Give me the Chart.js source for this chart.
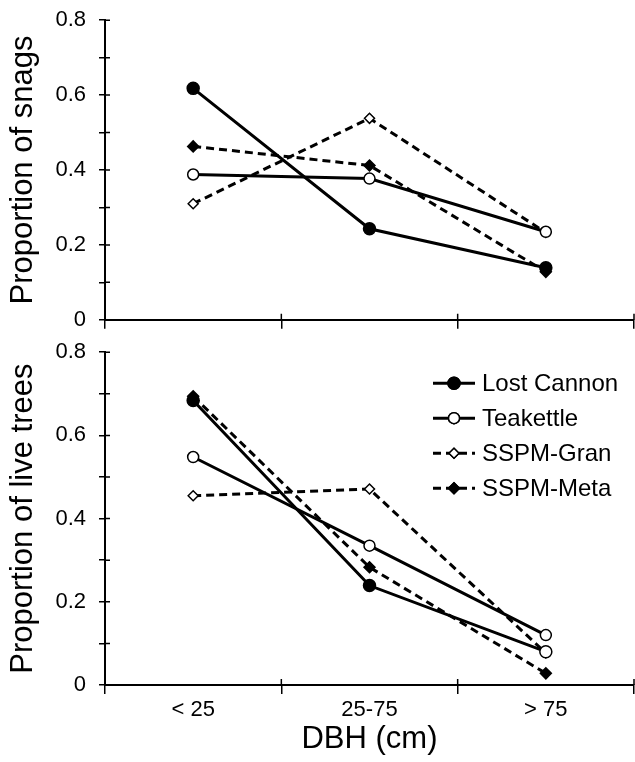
<!DOCTYPE html>
<html>
<head>
<meta charset="utf-8">
<script src="https://cdn.jsdelivr.net/npm/chart.js@4.4.1/dist/chart.umd.min.js"></script>
<style>
    body { margin: 0; background: #fff; }
    .panel { position: absolute; left: 0; }
    canvas { display: block; }
</style>
</head>
<body>
<div class="panel" style="top:-6px"><canvas id="snags" width="635" height="352"></canvas></div>
<div class="panel" style="top:326px"><canvas id="live" width="635" height="436"></canvas></div>
<script>
const categories = ['< 25', '25-75', '> 75'];
const seriesNames = ['Lost Cannon', 'Teakettle', 'SSPM-Gran', 'SSPM-Meta'];

// proportion of snags
const snagsLostCannon = [0.618, 0.243, 0.139];
const snagsTeakettle = [0.388, 0.377, 0.235];
const snagsGran = [0.310, 0.538, 0.233];
const snagsMeta = [0.463, 0.412, 0.128];

// proportion of live trees
const liveLostCannon = [0.684, 0.239, 0.080];
const liveTeakettle = [0.548, 0.335, 0.120];
const liveGran = [0.455, 0.471, 0.077];
const liveMeta = [0.694, 0.283, 0.028];

const yTicks = [0, 0.2, 0.4, 0.6, 0.8];

const FONT = "'Liberation Sans', Arial, sans-serif";

const seriesStyle = [
    { dash: [], pointStyle: 'circle', radius: 6, fill: '#000' },
    { dash: [], pointStyle: 'circle', radius: 5.5, fill: '#fff' },
    { dash: [8, 5], pointStyle: 'rectRot', radius: 5, fill: '#fff' },
    { dash: [8, 5], pointStyle: 'rectRot', radius: 5.5, fill: '#000' },
];

function makeDatasets(values) {
    return values.map((data, i) => ({
        label: seriesNames[i],
        data: data,
        borderColor: '#000',
        borderWidth: 3,
        borderDash: seriesStyle[i].dash,
        pointStyle: seriesStyle[i].pointStyle,
        pointRadius: seriesStyle[i].radius,
        pointBackgroundColor: seriesStyle[i].fill,
        pointBorderColor: '#000',
        pointBorderWidth: 1.5,
        tension: 0,
        fill: false,
    }));
}

// short tick marks poking into the plot area
const innerTicks = {
    id: 'innerTicks',
    afterDraw(chart) {
        const ctx = chart.ctx;
        const { x, y } = chart.scales;
        const half = (x.getPixelForValue(1) - x.getPixelForValue(0)) / 2;
        ctx.save();
        ctx.strokeStyle = '#000';
        ctx.lineWidth = 1.5;
        ctx.beginPath();
        y.ticks.forEach((t, i) => {
            const py = y.getPixelForTick(i);
            ctx.moveTo(y.right, py);
            ctx.lineTo(y.right + 5, py);
        });
        for (let i = 0; i <= categories.length; i++) {
            const px = i < categories.length ? x.getPixelForValue(i) - half : x.right;
            ctx.moveTo(px, x.top);
            ctx.lineTo(px, x.top - 6);
        }
        ctx.stroke();
        ctx.restore();
    }
};

const lineLegend = {
    id: 'lineLegend',
    afterDraw(chart) {
        const ctx = chart.ctx;
        const area = chart.chartArea;
        const x0 = area.right - 201;
        const x1 = x0 + 42;
        const mid = (x0 + x1) / 2;
        ctx.save();
        ctx.font = '24px ' + FONT;
        ctx.textBaseline = 'middle';
        chart.data.datasets.forEach((ds, i) => {
            const yy = area.top + 31 + i * 35;
            ctx.strokeStyle = '#000';
            ctx.lineWidth = 3;
            ctx.setLineDash(ds.borderDash);
            ctx.beginPath();
            ctx.moveTo(x0, yy);
            ctx.lineTo(x1, yy);
            ctx.stroke();
            ctx.setLineDash([]);
            ctx.lineWidth = 1.5;
            ctx.fillStyle = seriesStyle[i].fill;
            Chart.helpers.drawPoint(ctx, { pointStyle: ds.pointStyle, radius: ds.pointRadius, borderWidth: 1.5 }, mid, yy);
            ctx.fill();
            ctx.stroke();
            ctx.fillStyle = '#000';
            ctx.fillText(ds.label, x1 + 7, yy + 1);
        });
        ctx.restore();
    }
};

function makeOptions(yTitle, showX) {
    return {
        responsive: false,
        animation: false,
        layout: { autoPadding: false, padding: { top: 0, right: 1, left: 0, bottom: showX ? 4 : 0 } },
        plugins: {
            legend: { display: false },
            tooltip: { enabled: false },
        },
        scales: {
            x: {
                type: 'category',
                offset: true,
                grid: {
                    display: true,
                    offset: true,
                    drawOnChartArea: false,
                    drawTicks: true,
                    tickLength: 9,
                    color: '#000',
                    lineWidth: 1.5,
                },
                border: { color: '#000', width: 2 },
                ticks: {
                    display: showX,
                    color: '#000',
                    padding: 3,
                    font: { family: FONT, size: 22 },
                },
                title: {
                    display: showX,
                    text: 'DBH (cm)',
                    color: '#000',
                    padding: { top: 0, bottom: 0 },
                    font: { family: FONT, size: 31 },
                },
                afterFit(scale) { scale.height = showX ? 73 : 11; },
            },
            y: {
                min: 0,
                max: 0.8,
                grid: {
                    display: true,
                    drawOnChartArea: false,
                    drawTicks: true,
                    tickLength: 6,
                    color: '#000',
                    lineWidth: 1.5,
                },
                border: { color: '#000', width: 2 },
                ticks: {
                    stepSize: 0.1,
                    color: '#000',
                    padding: 13,
                    font: { family: FONT, size: 22 },
                    callback: (v) => {
                        const hit = yTicks.find(t => Math.abs(t - v) < 1e-6);
                        return hit === undefined ? '' : (hit === 0 ? '0' : hit.toFixed(1));
                    },
                },
                title: {
                    display: true,
                    text: yTitle,
                    color: '#000',
                    padding: { top: 5, bottom: 0 },
                    font: { family: FONT, size: 31 },
                },
                afterFit(scale) { scale.width = 105; },
            },
        },
    };
}

const snagDatasets = makeDatasets([snagsLostCannon, snagsTeakettle, snagsGran, snagsMeta]);
new Chart(document.getElementById('snags').getContext('2d'), {
    type: 'line',
    data: { labels: categories, datasets: snagDatasets },
    options: makeOptions('Proportion of snags', false),
    plugins: [innerTicks],
});

const liveDatasets = makeDatasets([liveLostCannon, liveTeakettle, liveGran, liveMeta]);
// the last Lost Cannon marker shows hollow in the figure
liveDatasets[0].pointBackgroundColor = ['#000', '#000', '#fff'];
new Chart(document.getElementById('live').getContext('2d'), {
    type: 'line',
    data: { labels: categories, datasets: liveDatasets },
    options: makeOptions('Proportion of live trees', true),
    plugins: [innerTicks, lineLegend],
});
</script>
</body>
</html>
